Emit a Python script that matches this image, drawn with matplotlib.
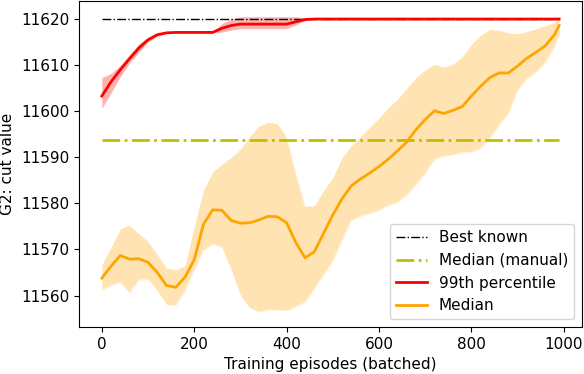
import matplotlib
matplotlib.use('Agg')
import matplotlib.pyplot as plt

# Training episodes (batched)
episodes = [0, 20, 40, 60, 80, 100, 120, 140, 160, 180, 200, 220, 240, 260, 280,
            300, 320, 340, 360, 380, 400, 420, 440, 460, 480, 500, 520, 540, 560,
            580, 600, 620, 640, 660, 680, 700, 720, 740, 760, 780, 800, 820, 840,
            860, 880, 900, 920, 940, 960, 980, 990]

# 99th percentile cut value and its band
p99 = [11603.3, 11606.4, 11609.0, 11611.4, 11613.7, 11615.5, 11616.6, 11617.0,
       11617.1, 11617.1, 11617.1, 11617.1, 11617.1, 11618.0, 11618.6, 11618.9,
       11618.9, 11618.9, 11618.9, 11618.9, 11618.9, 11619.4, 11619.9, 11620.0,
       11620.0, 11620.0, 11620.0, 11620.0, 11620.0, 11620.0, 11620.0, 11620.0,
       11620.0, 11620.0, 11620.0, 11620.0, 11620.0, 11620.0, 11620.0, 11620.0,
       11620.0, 11620.0, 11620.0, 11620.0, 11620.0, 11620.0, 11620.0, 11620.0,
       11620.0, 11620.0, 11620.0]
p99_hi = [11607.3, 11608.2, 11610.0, 11612.3, 11614.6, 11616.0, 11616.9, 11617.2,
          11617.3, 11617.3, 11617.3, 11617.3, 11617.3, 11619.0, 11620.0, 11620.5,
          11620.5, 11620.5, 11620.5, 11620.5, 11620.5, 11620.5, 11620.3, 11620.1,
          11620.0, 11620.0, 11620.0, 11620.0, 11620.0, 11620.0, 11620.0, 11620.0,
          11620.0, 11620.0, 11620.0, 11620.0, 11620.0, 11620.0, 11620.0, 11620.0,
          11620.0, 11620.0, 11620.0, 11620.0, 11620.0, 11620.0, 11620.0, 11620.0,
          11620.0, 11620.0, 11620.0]
p99_lo = [11600.6, 11604.0, 11607.5, 11610.5, 11612.8, 11615.0, 11616.3, 11616.9,
          11617.0, 11617.0, 11617.0, 11617.0, 11617.0, 11617.2, 11617.6, 11617.9,
          11617.9, 11617.9, 11617.9, 11617.9, 11617.9, 11618.8, 11619.6, 11620.0,
          11620.0, 11620.0, 11620.0, 11620.0, 11620.0, 11620.0, 11620.0, 11620.0,
          11620.0, 11620.0, 11620.0, 11620.0, 11620.0, 11620.0, 11620.0, 11620.0,
          11620.0, 11620.0, 11620.0, 11620.0, 11620.0, 11620.0, 11620.0, 11620.0,
          11620.0, 11620.0, 11620.0]

# median cut value and its band
med = [11563.8, 11566.4, 11568.7, 11567.9, 11568.0, 11567.2, 11565.0, 11562.2,
       11561.8, 11564.0, 11567.8, 11575.5, 11578.6, 11578.5, 11576.3, 11575.7,
       11575.8, 11576.4, 11577.2, 11577.1, 11575.8, 11571.5, 11568.2, 11569.5,
       11573.5, 11577.5, 11581.0, 11583.8, 11585.3, 11586.6, 11588.0, 11589.6,
       11591.4, 11593.3, 11596.0, 11598.2, 11600.1, 11599.5, 11600.2, 11601.0,
       11603.3, 11605.4, 11607.3, 11608.3, 11608.3, 11609.8, 11611.5, 11612.8,
       11614.2, 11616.6, 11618.6]
med_hi = [11566.7, 11570.5, 11574.5, 11575.3, 11573.5, 11571.8, 11569.0, 11566.0,
          11565.6, 11566.5, 11575.0, 11583.0, 11586.8, 11588.5, 11590.0, 11591.8,
          11594.5, 11596.8, 11597.6, 11597.4, 11594.5, 11586.5, 11579.4, 11579.5,
          11582.8, 11585.6, 11590.0, 11592.5, 11594.5, 11596.5, 11598.5, 11600.8,
          11602.6, 11605.0, 11607.3, 11609.0, 11610.2, 11609.6, 11610.2, 11611.8,
          11614.5, 11616.5, 11617.8, 11617.6, 11617.0, 11616.8, 11617.3, 11617.9,
          11618.5, 11619.3, 11620.7]
med_lo = [11561.1, 11562.2, 11562.8, 11560.5, 11563.4, 11563.5, 11561.0, 11558.0,
          11557.8, 11561.0, 11565.5, 11569.8, 11571.2, 11570.4, 11565.5, 11560.0,
          11557.3, 11556.4, 11556.9, 11556.8, 11556.7, 11557.6, 11558.5, 11561.5,
          11564.5, 11567.5, 11572.0, 11576.3, 11577.2, 11577.8, 11578.5, 11579.5,
          11580.2, 11581.8, 11584.0, 11586.5, 11589.5, 11590.2, 11590.5, 11591.0,
          11591.0, 11592.0, 11594.0, 11597.0, 11599.5, 11604.5, 11607.0, 11608.4,
          11610.5, 11614.0, 11616.4]

best_known = 11620.0
median_manual = 11593.7

plt.rcParams['font.size'] = 11

fig = plt.figure(figsize=(5.84, 3.74), dpi=100)
ax = fig.add_axes([79 / 584, 47 / 374, 503 / 584, 326 / 374])

# shaded bands, with the faint light rim seen in the original
ax.fill_between(episodes, p99_lo, p99_hi, color='red', alpha=0.3, lw=0)
ax.fill_between(episodes, med_lo, med_hi, color='orange', alpha=0.3, lw=0)
for edge in (med_lo, med_hi):
    ax.plot(episodes, edge, color='white', lw=0.5, alpha=0.8)

ax.plot([episodes[0], episodes[-1]], [best_known, best_known], 'k-.', lw=1, label='Best known')
ax.plot([episodes[0], episodes[-1]], [median_manual, median_manual], 'y-.', lw=2,
        label='Median (manual)')
ax.plot(episodes, p99, color='red', lw=2, label='99th percentile')
ax.plot(episodes, med, color='orange', lw=2, label='Median')

ax.set_xlabel('Training episodes (batched)')
ax.set_ylabel('G2: cut value')
ax.legend(loc='lower right')

fig.savefig('out.png', dpi=100)
